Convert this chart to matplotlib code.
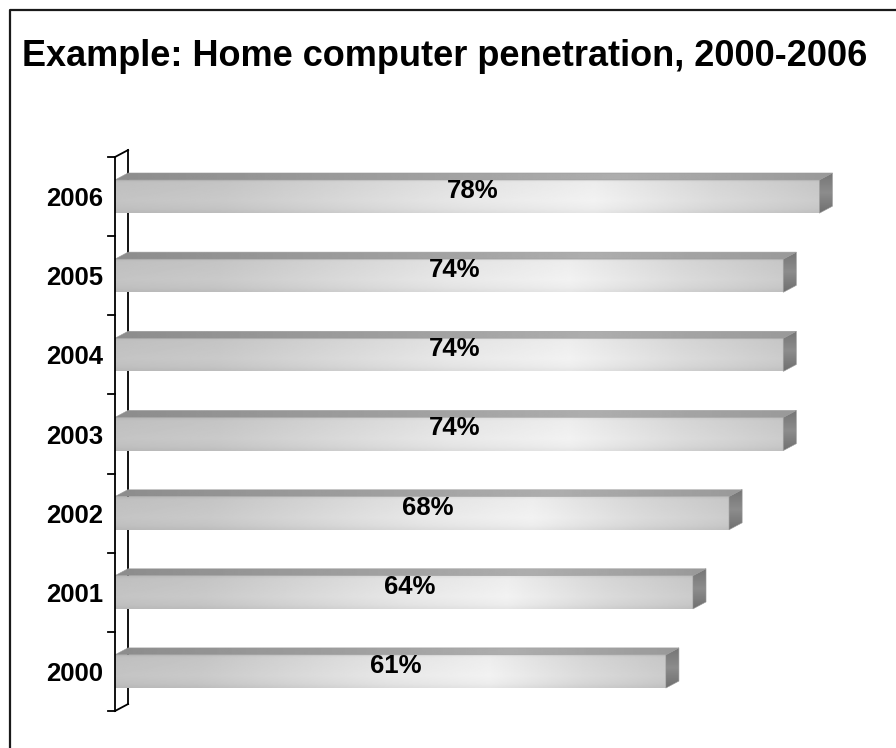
import matplotlib
matplotlib.use("Agg")
import matplotlib.pyplot as plt
from matplotlib.patches import Polygon
from matplotlib.lines import Line2D
import numpy as np

plt.rcParams['font.family'] = ['Liberation Sans', 'DejaVu Sans']

years = ['2000', '2001', '2002', '2003', '2004', '2005', '2006']
penetration = [61, 64, 68, 74, 74, 74, 78]
title = 'Example: Home computer penetration, 2000-2006'

W, H, DPI = 896, 748, 100

# pseudo-3D depth of the bars, in data units
DX = 1.45     # percent
DY = 0.088    # category units
BAR_H = 0.42


def profile(t, stops, vals):
    return np.interp(t, stops, vals)


def shaded(ax, poly_xy, extent, img, z):
    im = ax.imshow(img, cmap='gray', vmin=0, vmax=1, extent=extent,
                   origin='lower', aspect='auto', interpolation='bilinear',
                   zorder=z)
    clip = Polygon(poly_xy, closed=True, transform=ax.transData,
                   facecolor='none', edgecolor='none')
    ax.add_patch(clip)
    im.set_clip_path(clip)


def draw_bar(ax, y, v):
    y0, y1 = y - BAR_H / 2, y + BAR_H / 2
    tx = np.linspace(0, 1, 300)
    ty = np.linspace(0, 1, 40)

    # front face
    hx = profile(tx, [0, 0.15, 0.5, 0.68, 0.85, 1.0],
                 [0.75, 0.77, 0.89, 0.93, 0.84, 0.78])
    vy = profile(ty, [0, 0.12, 0.35, 0.6, 0.9, 1.0],
                 [-0.03, 0.0, 0.02, 0.01, 0.0, -0.04])
    img = np.clip(hx[None, :] + vy[:, None], 0, 1)
    shaded(ax, [(0, y0), (v, y0), (v, y1), (0, y1)], (0, v, y0, y1), img, 3)

    # top face
    top = [(0, y1), (v, y1), (v + DX, y1 + DY), (DX, y1 + DY)]
    hx = profile(tx, [0, 0.4, 0.7, 1.0], [0.55, 0.62, 0.68, 0.60])
    img = np.tile(hx, (10, 1))
    shaded(ax, top, (0, v + DX, y1, y1 + DY), img, 3)

    # end face
    side = [(v, y0), (v + DX, y0 + DY), (v + DX, y1 + DY), (v, y1)]
    vy = profile(ty, [0, 0.5, 1.0], [0.44, 0.55, 0.46])
    img = np.tile(vy[:, None], (1, 10))
    shaded(ax, side, (v, v + DX, y0, y1 + DY), img, 3)

    for poly in (top, side):
        ax.add_patch(Polygon(poly, closed=True, facecolor='none',
                             edgecolor='#9a9a9a', lw=0.4, zorder=4))


fig = plt.figure(figsize=(W / DPI, H / DPI), dpi=DPI)

# frame around the slide
fx, fy = 9.5 / W, 1 - 10 / H
fig.add_artist(Line2D([fx, fx, 1.0], [0.0, fy, fy], transform=fig.transFigure,
                      color='#1a1a1a', lw=1.6))

fig.text(22 / W, 1 - 66.5 / H, title, fontsize=26, fontweight='bold',
         ha='left', va='baseline')

x0_px, top_px, bot_px = 115, 157, 711
xmax = 85
px_per_pct = 9.03
ax = fig.add_axes([x0_px / W, (H - bot_px) / H,
                   xmax * px_per_pct / W, (bot_px - top_px) / H])
ax.set_xlim(0, xmax)
ax.set_ylim(-0.5, len(years) - 0.5)
for s in ax.spines.values():
    s.set_visible(False)
ax.set_xticks([])
ax.set_yticks(range(len(years)))
ax.set_yticklabels(years, fontsize=18.5, fontweight='bold')
ax.tick_params(axis='y', length=0, pad=8.5)

# category axis: front wall line, back wall line and boundary ticks
yb, yt = -0.5, len(years) - 0.5
tick_len = 7 / px_per_pct
ax.plot([0, 0], [yb, yt], color='black', lw=1.3, zorder=5, clip_on=False)
ax.plot([DX, DX], [yb + DY, yt + DY], color='black', lw=1.3, zorder=1,
        clip_on=False)
ax.plot([0, DX], [yt, yt + DY], color='black', lw=1.3, zorder=5, clip_on=False)
ax.plot([0, DX], [yb, yb + DY], color='black', lw=1.3, zorder=5, clip_on=False)
for b in np.arange(yb, yt + 0.01, 1.0):
    ax.plot([-tick_len, 0], [b, b], color='black', lw=1.3, zorder=5,
            clip_on=False)

for i, v in enumerate(penetration):
    draw_bar(ax, i, v)
    ax.text(v / 2 + 0.6, i + 0.07, f'{v}%', ha='center', va='center',
            fontsize=18.5, fontweight='bold', zorder=6)

fig.savefig('out.png', dpi=DPI)
